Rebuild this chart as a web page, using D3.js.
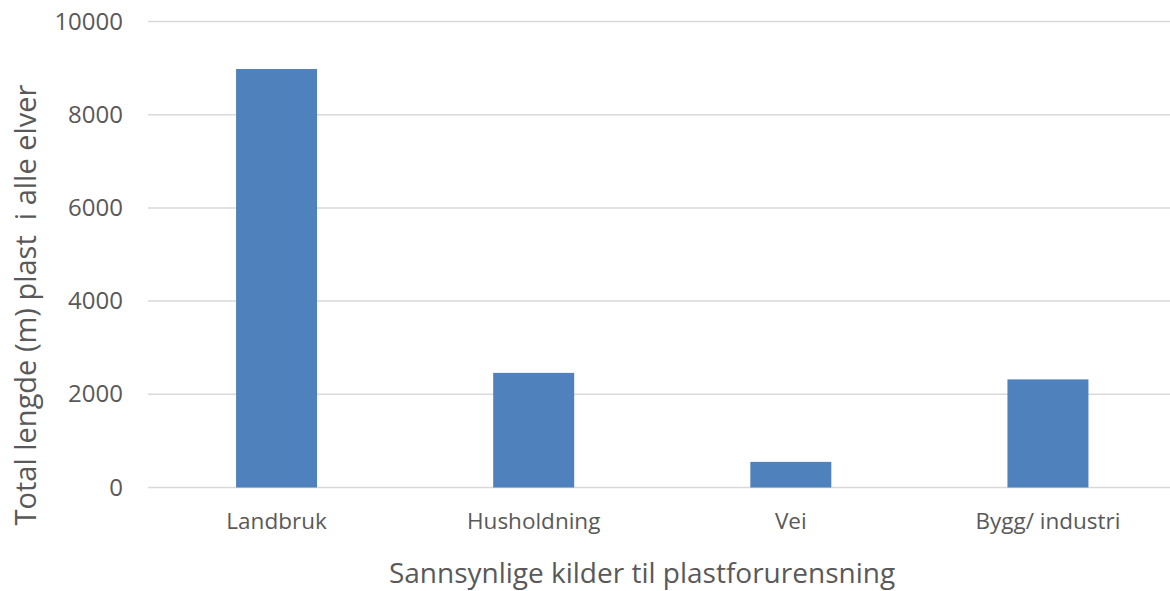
<!DOCTYPE html>
<html>
<head>
<meta charset="utf-8">
<script src="https://cdn.jsdelivr.net/npm/d3@7.9.0/dist/d3.min.js"></script>
<style>
  body { margin: 0; background: #fff; }
  svg { display: block; font-family: "Open Sans", sans-serif; }
</style>
</head>
<body>
<svg id="chart" width="1170" height="591"></svg>
<script>
const categories = ['Landbruk', 'Husholdning', 'Vei', 'Bygg/ industri'];
const values = [8980, 2460, 550, 2320];
const yTicks = [0, 2000, 4000, 6000, 8000, 10000];

const svg = d3.select('#chart');

const x = d3.scaleBand().domain(categories).range([148, 1176.5]).paddingInner(0.685).paddingOuter(0.3425);
const y = d3.scaleLinear().domain([0, 10000]).range([487.5, 21.5]);

// gridlines
svg.append('g')
  .selectAll('line')
  .data(yTicks)
  .join('line')
  .attr('x1', 148)
  .attr('x2', 1170)
  .attr('y1', (d) => y(d))
  .attr('y2', (d) => y(d))
  .attr('stroke', '#d9d9d9')
  .attr('stroke-width', 1.5);

// bars
svg.append('g')
  .selectAll('rect')
  .data(values)
  .join('rect')
  .attr('x', (d, i) => x(categories[i]))
  .attr('width', x.bandwidth())
  .attr('y', (d) => y(d))
  .attr('height', (d) => y(0) - y(d))
  .attr('fill', '#4f81bd');

// y axis
const yAxis = svg.append('g')
  .attr('transform', 'translate(123,0)')
  .call(d3.axisLeft(y).tickValues(yTicks).tickSize(0).tickPadding(0).tickFormat(d3.format('d')));
yAxis.select('.domain').remove();
yAxis.selectAll('text')
  .attr('fill', '#595959')
  .attr('font-size', 24)
  .attr('font-family', '"Open Sans", sans-serif');

// x axis
const xAxis = svg.append('g')
  .attr('transform', `translate(0,${y(0)})`)
  .call(d3.axisBottom(x).tickSize(0).tickPadding(26));
xAxis.select('.domain').remove();
xAxis.selectAll('text')
  .attr('fill', '#595959')
  .attr('font-size', 22.5)
  .attr('font-family', '"Open Sans", sans-serif');

// axis titles
svg.append('text')
  .attr('x', 642)
  .attr('y', 583)
  .attr('text-anchor', 'middle')
  .attr('fill', '#595959')
  .attr('font-size', 28)
  .text('Sannsynlige kilder til plastforurensning');

svg.append('text')
  .attr('transform', 'translate(36,305) rotate(-90)')
  .attr('text-anchor', 'middle')
  .attr('fill', '#595959')
  .attr('font-size', 29)
  .style('white-space', 'pre')
  .text('Total lengde (m) plast  i alle elver');
</script>
</body>
</html>
